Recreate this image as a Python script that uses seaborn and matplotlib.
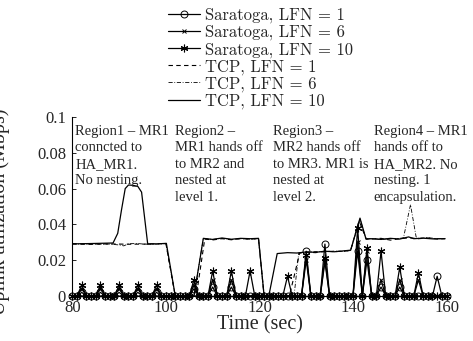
import numpy as np
import pandas as pd
import matplotlib
matplotlib.use("Agg")
import matplotlib.pyplot as plt
import seaborn as sns

# Saratoga: one sample per second, zero except at the spikes
sec = list(range(80, 161))
spike_t = [82, 86, 90, 94, 98, 106, 110, 114, 118, 126, 130, 134, 141, 143, 146, 150, 154, 158]
sar1_peak = [0.002, 0.002, 0.002, 0.002, 0.002, 0.004, 0.005, 0.005, 0.0, 0.0,
             0.025, 0.029, 0.025, 0.020, 0.005, 0.005, 0.0, 0.011]
sar6_peak = [0.004, 0.004, 0.004, 0.004, 0.004, 0.006, 0.009, 0.009, 0.0, 0.0,
             0.020, 0.019, 0.030, 0.025, 0.009, 0.009, 0.009, 0.0]
sar10_peak = [0.006, 0.006, 0.006, 0.006, 0.006, 0.009, 0.014, 0.014, 0.014, 0.011,
              0.023, 0.021, 0.038, 0.027, 0.025, 0.016, 0.013, 0.0]

# TCP curves, read as breakpoints (time, Mbps)
tcp1_t = [80, 84, 88, 92, 96, 100, 102, 106.5, 108.3, 110, 112, 114, 116, 118, 119.8, 121,
          126.4, 128.6, 130, 132, 134, 136, 138, 139.5, 141.3, 142.8, 144, 146, 148, 150,
          152, 154, 156, 158, 159.7]
tcp1_v = [0.0292, 0.0290, 0.0291, 0.0289, 0.0290, 0.0293, 0.0, 0.0, 0.0318, 0.0313, 0.0320,
          0.0314, 0.0321, 0.0318, 0.0320, 0.0, 0.0, 0.0240, 0.0245, 0.0242, 0.0250, 0.0248,
          0.0250, 0.0255, 0.0420, 0.0320, 0.0318, 0.0322, 0.0312, 0.0320, 0.0325, 0.0320,
          0.0324, 0.0318, 0.0320]
tcp6_t = [80, 84, 88, 90, 91, 92, 94, 96, 100, 102, 106, 108, 110, 112, 114, 116, 118, 119.8,
          121, 127.4, 128.4, 130, 132, 134, 136, 138, 139.5, 141.5, 142.8, 144, 146, 148, 150,
          150.8, 152.3, 153.5, 154, 156, 158, 159.7]
tcp6_v = [0.0290, 0.0288, 0.0290, 0.0285, 0.0280, 0.0292, 0.0293, 0.0288, 0.0292, 0.0, 0.0,
          0.0320, 0.0316, 0.0322, 0.0315, 0.0320, 0.0317, 0.0320, 0.0, 0.0, 0.0240, 0.0244,
          0.0248, 0.0246, 0.0251, 0.0249, 0.0254, 0.0430, 0.0318, 0.0322, 0.0316, 0.0320,
          0.0322, 0.0325, 0.0510, 0.0330, 0.0322, 0.0326, 0.0320, 0.0321]
tcp10_t = [80, 84, 88.7, 89.7, 90.5, 91.3, 92, 93, 94, 94.8, 96.1, 98, 100.1, 102, 106, 108,
           110, 112, 114, 116, 118, 119.8, 121, 122, 123.8, 126, 128, 130, 132, 134, 136,
           138, 139.5, 141.5, 142.8, 144, 146, 148, 150, 151.9, 153, 155, 157, 159.7]
tcp10_v = [0.0291, 0.0293, 0.0296, 0.0350, 0.0480, 0.0600, 0.0620, 0.0618, 0.0612, 0.0580,
           0.0292, 0.0291, 0.0294, 0.0, 0.0, 0.0322, 0.0316, 0.0324, 0.0317, 0.0322, 0.0320,
           0.0322, 0.0, 0.0, 0.0237, 0.0242, 0.0240, 0.0246, 0.0244, 0.0250, 0.0247, 0.0252,
           0.0256, 0.0435, 0.0317, 0.0320, 0.0316, 0.0322, 0.0318, 0.0330, 0.0320, 0.0323,
           0.0319, 0.0320]

labels = ["Saratoga, LFN = 1", "Saratoga, LFN = 6", "Saratoga, LFN = 10",
          "TCP, LFN = 1", "TCP, LFN = 6", "TCP, LFN = 10"]

regions = ["Region1 \u2013 MR1\nconncted to\nHA_MR1.\nNo nesting.",
           "Region2 \u2013\nMR1 hands off\nto MR2 and\nnested at\nlevel 1.",
           "Region3 \u2013\nMR2 hands off\nto MR3. MR1 is\nnested at\nlevel 2.",
           "Region4 \u2013 MR1\nhands off to\nHA_MR2. No\nnesting. 1\nencapsulation."]
region_x = [80.6, 102.0, 122.9, 144.4]

yticks = [0, 0.02, 0.04, 0.06, 0.08, 0.1]
ytick_labels = ["0", "0.02", "0.04", "0.06", "0.08", "0.1"]


def spikes(peaks):
    y = np.zeros(len(sec))
    for t, v in zip(spike_t, peaks):
        y[sec.index(t)] = v
    return y


sns.set_style("ticks")
plt.rcParams['font.family'] = ['Liberation Serif', 'DejaVu Serif']
plt.rcParams['xtick.direction'] = 'in'
plt.rcParams['ytick.direction'] = 'in'

fig = plt.figure(figsize=(4.73, 3.41), dpi=100)
ax = fig.add_axes([0.153, 0.132, 0.791, 0.525])

sns.lineplot(x=tcp1_t, y=tcp1_v, ax=ax, color='k', lw=0.8, linestyle=(0, (4, 3)),
             estimator=None, label=labels[3])
sns.lineplot(x=tcp6_t, y=tcp6_v, ax=ax, color='k', lw=0.6, linestyle=(0, (5, 2, 1, 2)),
             estimator=None, label=labels[4])
sns.lineplot(x=tcp10_t, y=tcp10_v, ax=ax, color='k', lw=0.9, linestyle='-',
             estimator=None, label=labels[5])

sns.lineplot(x=sec, y=spikes(sar1_peak), ax=ax, color='k', lw=0.9, marker='o', ms=5,
             mfc='none', mec='k', mew=0.7, clip_on=False, estimator=None, label=labels[0])
sns.lineplot(x=sec, y=spikes(sar6_peak), ax=ax, color='k', lw=0.9, marker='x', ms=3.5,
             mec='k', mew=0.7, clip_on=False, estimator=None, label=labels[1])
sns.lineplot(x=sec, y=spikes(sar10_peak), ax=ax, color='k', lw=0.9, marker=(6, 2, 0), ms=5.5,
             mec='k', mew=0.8, clip_on=False, estimator=None, label=labels[2])

for x, txt in zip(region_x, regions):
    ax.text(x, 0.0955, txt, fontsize=10.5, va='top', ha='left', linespacing=1.34)

ax.set_xlim(80, 160)
ax.set_ylim(0, 0.1)
ax.set_xticks([80, 100, 120, 140, 160])
ax.set_yticks(yticks)
ax.set_yticklabels(ytick_labels)
ax.tick_params(labelsize=12, length=3, width=0.7)
ax.tick_params(axis='y', pad=4.5)
ax.tick_params(axis='x', pad=3)
sns.despine(ax=ax)
for s in ['left', 'bottom']:
    ax.spines[s].set_linewidth(0.8)
    ax.spines[s].set_color('k')
ax.set_xlabel("Time (sec)", fontsize=14.5, labelpad=-1)
ax.set_ylabel("Uplink utilization (Mbps)", fontsize=14.5)
ax.yaxis.set_label_coords(-0.168, 0.47)

handles, labs = ax.get_legend_handles_labels()
order = [3, 4, 5, 0, 1, 2]
ax.get_legend().remove()
fig.legend([handles[i] for i in order], [labs[i] for i in order], loc='upper left',
           bbox_to_anchor=(168 / 473, 0.978), frameon=False,
           prop={'family': 'cmr10', 'size': 12},
           handlelength=1.9, handletextpad=0.3, labelspacing=0.08,
           borderpad=0, borderaxespad=0)

fig.savefig("out.png", dpi=100)
